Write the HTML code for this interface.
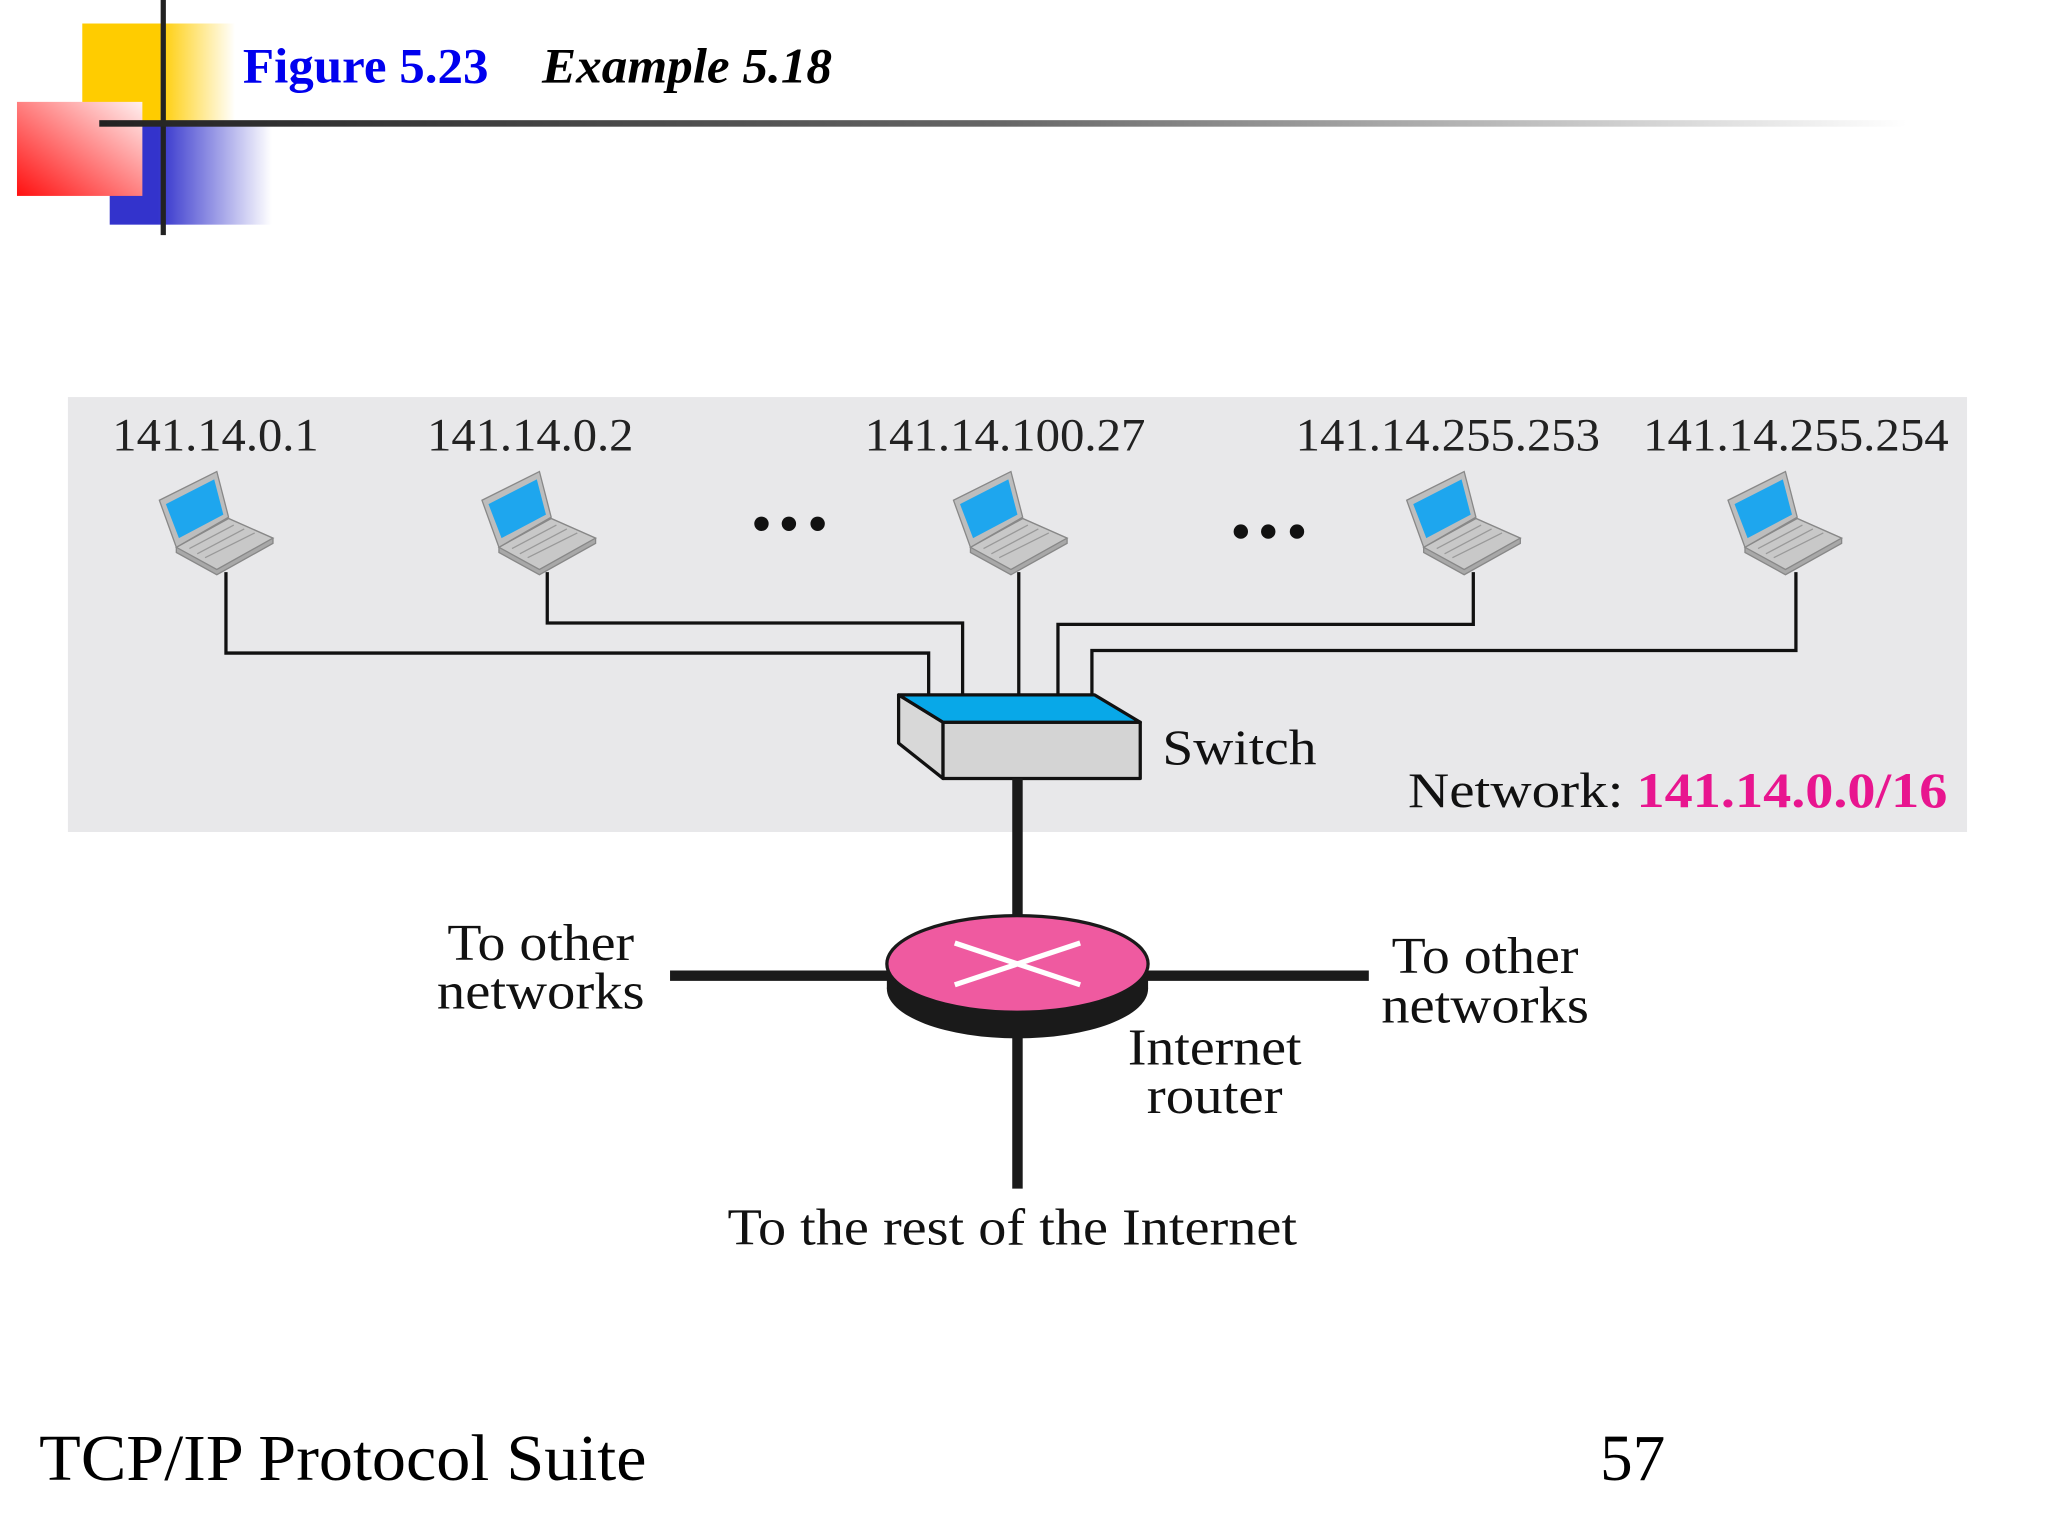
<!DOCTYPE html>
<html><head><meta charset="utf-8"><style>html,body{margin:0;padding:0;background:#fff}svg{display:block}</style></head>
<body>
<svg width="2048" height="1536" viewBox="0 0 1568 1176" xmlns="http://www.w3.org/2000/svg" font-family="Liberation Serif, serif">
<defs>
<linearGradient id="gy" x1="0" x2="1"><stop offset="0.5" stop-color="#ffcc00"/><stop offset="1" stop-color="#fff"/></linearGradient>
<linearGradient id="gr" x1="0" y1="1" x2="1" y2="0"><stop offset="0" stop-color="#ff1010"/><stop offset="1" stop-color="#fff0f0"/></linearGradient>
<linearGradient id="gb" x1="0" x2="1"><stop offset="0.3" stop-color="#3333cc"/><stop offset="1" stop-color="#fff"/></linearGradient>
<linearGradient id="gl" x1="0" x2="1"><stop offset="0" stop-color="#222"/><stop offset="0.5" stop-color="#666"/><stop offset="1" stop-color="#fff"/></linearGradient>
<g id="lap">
<polygon points="-30,19 10,-3 44,12 44,16 1,40 -30,23" fill="#a8a8a8" stroke="#888" stroke-width="1"/>
<polygon points="-30,19 10,-3 44,12 1,36" fill="#c8c8c8" stroke="#888" stroke-width="1"/>
<polygon points="-43,-17 1,-39 10,-4 -30,19" fill="#bdbdbd" stroke="#888" stroke-width="1"/>
<polygon points="-38,-14 -1,-33 6,-6 -28,12" fill="#1ea6ee"/>
<g stroke="#999" stroke-width="1"><line x1="-20" y1="20" x2="14" y2="2"/><line x1="-14" y1="24" x2="22" y2="5"/><line x1="-8" y1="27" x2="30" y2="8"/></g>
</g>
</defs>
<rect x="63" y="18" width="117" height="77" fill="url(#gy)"/>
<rect x="84" y="95" width="124" height="77" fill="url(#gb)"/>
<rect x="13" y="78" width="96" height="72" fill="url(#gr)"/>
<rect x="123" y="0" width="4" height="180" fill="#222"/>
<rect x="76" y="92" width="1384" height="5" fill="url(#gl)"/>
<text x="186" y="63" font-size="38" font-weight="bold" fill="#0000ee" textLength="188" lengthAdjust="spacingAndGlyphs">Figure 5.23</text>
<text x="415" y="63" font-size="38" font-weight="bold" font-style="italic" fill="#000" textLength="222" lengthAdjust="spacingAndGlyphs">Example 5.18</text>

<rect x="52" y="304" width="1454" height="333" fill="#e8e8ea"/>
<g font-size="36" fill="#222">
<text x="86" y="345" textLength="158" lengthAdjust="spacingAndGlyphs">141.14.0.1</text>
<text x="327" y="345" textLength="158" lengthAdjust="spacingAndGlyphs">141.14.0.2</text>
<text x="662" y="345" textLength="215" lengthAdjust="spacingAndGlyphs">141.14.100.27</text>
<text x="992" y="345" textLength="233" lengthAdjust="spacingAndGlyphs">141.14.255.253</text>
<text x="1258" y="345" textLength="234" lengthAdjust="spacingAndGlyphs">141.14.255.254</text>
</g>
<use href="#lap" x="165" y="400"/>
<use href="#lap" x="412" y="400"/>
<use href="#lap" x="773" y="400"/>
<use href="#lap" x="1120" y="400"/>
<use href="#lap" x="1366" y="400"/>
<g fill="#111"><circle cx="583" cy="401" r="5.5"/><circle cx="604" cy="401" r="5.5"/><circle cx="626" cy="401" r="5.5"/><circle cx="950" cy="407" r="5.5"/><circle cx="971" cy="407" r="5.5"/><circle cx="993" cy="407" r="5.5"/></g>
<g fill="none" stroke="#111" stroke-width="2.5">
<polyline points="173,438 173,500 711,500 711,532"/>
<polyline points="419,438 419,477 737,477 737,532"/>
<line x1="780" y1="438" x2="780" y2="532"/>
<polyline points="810,532 810,478 1128,478 1128,438"/>
<polyline points="836,532 836,498 1375,498 1375,438"/>
</g>
<g stroke="#111" stroke-width="2.5" stroke-linejoin="round">
<polygon points="688,532 722,553 722,596 688,569" fill="#d8d8d8"/>
<polygon points="722,553 873,553 873,596 722,596" fill="#d4d4d4"/>
<polygon points="688,532 838,532 873,553 722,553" fill="#08a8e8"/>
</g>
<text x="890" y="585" font-size="38" fill="#111" textLength="118" lengthAdjust="spacingAndGlyphs">Switch</text>
<text x="1078" y="618" font-size="38" fill="#111" textLength="165" lengthAdjust="spacingAndGlyphs">Network:</text>
<text x="1253" y="618" font-size="38" font-weight="bold" fill="#e8158f" textLength="238" lengthAdjust="spacingAndGlyphs">141.14.0.0/16</text>

<g stroke="#1a1a1a" stroke-width="8">
<line x1="779" y1="596" x2="779" y2="705"/>
<line x1="513" y1="747" x2="690" y2="747"/>
<line x1="870" y1="747" x2="1048" y2="747"/>
<line x1="779" y1="780" x2="779" y2="910"/>
</g>
<ellipse cx="779" cy="757" rx="100" ry="38" fill="#1a1a1a"/>
<rect x="679" y="738" width="200" height="19" fill="#1a1a1a"/>
<ellipse cx="779" cy="738" rx="100" ry="37" fill="#ef5aa0" stroke="#1a1a1a" stroke-width="2.5"/>
<g stroke="#fff" stroke-width="4"><line x1="731" y1="722" x2="827" y2="754"/><line x1="731" y1="754" x2="827" y2="722"/></g>

<g font-size="40" fill="#111" text-anchor="middle">
<text x="414" y="735" textLength="143" lengthAdjust="spacingAndGlyphs">To other</text>
<text x="414" y="772" textLength="159" lengthAdjust="spacingAndGlyphs">networks</text>
<text x="1137" y="745" textLength="143" lengthAdjust="spacingAndGlyphs">To other</text>
<text x="1137" y="783" textLength="159" lengthAdjust="spacingAndGlyphs">networks</text>
<text x="930" y="815" textLength="133" lengthAdjust="spacingAndGlyphs">Internet</text>
<text x="930" y="852" textLength="104" lengthAdjust="spacingAndGlyphs">router</text>
</g>
<text x="557" y="953" font-size="40" fill="#111" textLength="436" lengthAdjust="spacingAndGlyphs">To the rest of the Internet</text>
<text x="30" y="1133" font-size="50" fill="#000" textLength="465" lengthAdjust="spacingAndGlyphs">TCP/IP Protocol Suite</text>
<text x="1225" y="1133" font-size="50" fill="#000" textLength="50" lengthAdjust="spacingAndGlyphs">57</text>
</svg>
</body></html>
